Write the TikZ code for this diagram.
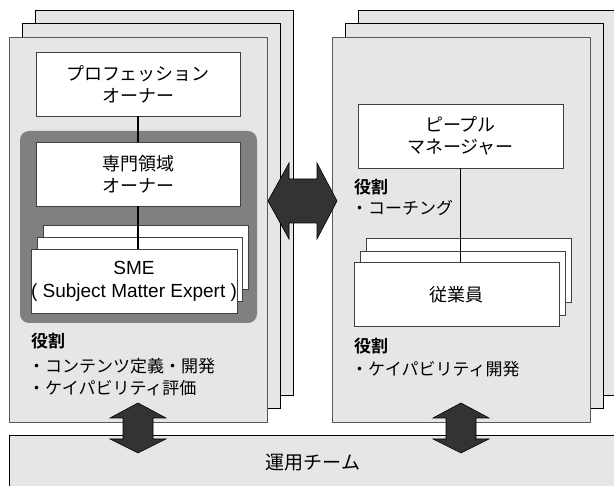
\documentclass[tikz,border=0pt]{standalone}
\usepackage{fontspec}
\setmainfont{Liberation Sans}
\newfontfamily\jp[BoldFont={Noto Sans CJK JP Bold}]{Noto Sans CJK JP}

\definecolor{sheetgray}{HTML}{E6E6E6}
\definecolor{groupgray}{HTML}{808080}
\definecolor{arrowgray}{HTML}{333333}

\tikzset{
  sheet/.style={draw=black, fill=sheetgray, line width=0.8pt,
    minimum width=258pt, minimum height=385pt, inner sep=0pt},
  rolebox/.style={draw=black!75, fill=white, line width=0.8pt,
    minimum width=205pt, minimum height=64pt, inner sep=0pt,
    align=center, font=\jp\fontsize{18}{22}\selectfont},
  roletext/.style={anchor=west, inner sep=0pt,
    font=\jp\fontsize{17}{20}\selectfont},
  bigarrow/.style={fill=arrowgray, draw=black, line width=0.6pt},
  link/.style={line width=1.2pt}
}

\begin{document}
\begin{tikzpicture}[x=1pt, y=-1pt]
  \useasboundingbox (0,0) rectangle (614,486);
  \clip (0,0) rectangle (614,486);

  % stacked sheets
  \node[sheet] (lsheetc) at (164,203) {};
  \node[sheet] (lsheetb) at (151,216) {};
  \node[sheet, draw=black!65] (lsheeta) at (138,229.5) {};
  \node[sheet] (rsheetc) at (487,203) {};
  \node[sheet] (rsheetb) at (474,216) {};
  \node[sheet, draw=black!65] (rsheeta) at (461,229.5) {};

  % operations band
  \node[draw=black, fill=sheetgray, line width=0.8pt, anchor=north west,
    minimum width=607pt, minimum height=54pt, inner sep=0pt,
    font=\jp\fontsize{19}{22}\selectfont] (ops) at (9,435) {運用チーム};

  % left column
  \node[fill=groupgray, rounded corners=9pt, minimum width=237pt,
    minimum height=192pt, inner sep=0pt] (domgroup) at (138.5,227) {};
  \node[rolebox, minimum width=204pt] (prof) at (138,84) {プロフェッション\\オーナー};
  \node[rolebox, minimum width=204pt] (domain) at (138,174) {専門領域\\オーナー};
  \node[rolebox] (smec) at (145.5,257) {};
  \node[rolebox] (smeb) at (139.5,269) {};
  \draw[link] (prof) -- (domain);
  \draw[link] (domain.south) -- (domain.south |- smec.south);
  \node[rolebox, minimum width=206pt, font=\fontsize{19}{23}\selectfont] (sme)
    at (134,281) {SME\\( Subject Matter Expert )};

  \node[roletext] (lroletitle) at (31,341) {\bfseries 役割};
  \node[roletext] (lroleone) at (28,366) {・コンテンツ定義・開発};
  \node[roletext] (lroletwo) at (28,388) {・ケイパビリティ評価};

  % right column
  \node[rolebox] (pm) at (460.5,136) {ピープル\\マネージャー};
  \node[rolebox] (empc) at (468.5,270.5) {};
  \node[rolebox] (empb) at (463,283) {};
  \draw[link] (pm.south) -- (pm.south |- empc.south);
  \node[rolebox] (emp) at (456.5,294.5) {従業員};

  \node[roletext] (rroletitle) at (354,187) {\bfseries 役割};
  \node[roletext] (rroleone) at (351,208) {・コーチング};
  \node[roletext] (rroletwo) at (354,346) {\bfseries 役割};
  \node[roletext] (rrolethree) at (351,369) {・ケイパビリティ開発};

  % double arrows
  \draw[bigarrow] (268,201) -- (289,163) -- (289,179) -- (317,179) -- (317,163)
    -- (337,201) -- (317,239) -- (317,223) -- (289,223) -- (289,239) -- cycle;
  \draw[bigarrow] (138,403) -- (166,418) -- (153,418) -- (153,439) -- (166,439)
    -- (138,453) -- (110,439) -- (123,439) -- (123,418) -- (110,418) -- cycle;
  \draw[bigarrow] (461,403) -- (489,418) -- (476,418) -- (476,439) -- (489,439)
    -- (461,453) -- (433,439) -- (446,439) -- (446,418) -- (433,418) -- cycle;
\end{tikzpicture}
\end{document}
